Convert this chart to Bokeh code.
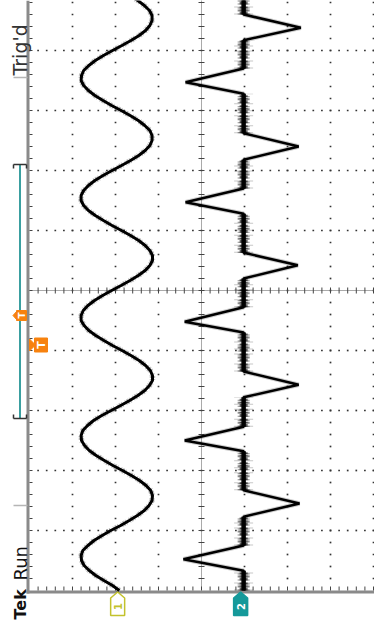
import numpy as np
from bokeh.plotting import figure
from bokeh.models import Range1d
from bokeh.embed import file_html
from bokeh.resources import INLINE
from bokeh.core.properties import value

# ---------------- data (screen divisions) ----------------
# time axis: horizontal divisions of the scope (0 = centre), one sample every 1/12 div
ch1_t = np.round(np.arange(-60, 61) / 12.0, 4)
# channel 1 (sine), divisions above its ground marker
ch1_v = [-0.04, 0.12, 0.32, 0.51, 0.66, 0.78, 0.84, 0.85, 0.81, 0.69, 0.55, 0.36,
         0.16, -0.07, -0.27, -0.46, -0.62, -0.73, -0.80, -0.81, -0.77, -0.66, -0.51, -0.32,
         -0.11, 0.11, 0.31, 0.50, 0.66, 0.77, 0.84, 0.85, 0.81, 0.70, 0.56, 0.37,
         0.15, -0.07, -0.28, -0.47, -0.63, -0.74, -0.81, -0.81, -0.76, -0.65, -0.50, -0.31,
         -0.10, 0.12, 0.32, 0.51, 0.67, 0.78, 0.85, 0.85, 0.80, 0.69, 0.54, 0.35,
         0.14, -0.08, -0.29, -0.48, -0.64, -0.75, -0.81, -0.81, -0.75, -0.64, -0.49, -0.30,
         -0.09, 0.13, 0.33, 0.52, 0.68, 0.79, 0.85, 0.85, 0.79, 0.68, 0.53, 0.34,
         0.13, -0.09, -0.30, -0.49, -0.64, -0.75, -0.80, -0.80, -0.75, -0.63, -0.48, -0.29,
         -0.08, 0.14, 0.34, 0.53, 0.68, 0.79, 0.85, 0.84, 0.79, 0.67, 0.52, 0.33,
         0.12, -0.10, -0.31, -0.50, -0.65, -0.75, -0.80, -0.80, -0.74, -0.62, -0.47, -0.28,
         -0.07]
# channel 2 (spiky wave), vertices: time (div) and divisions above its ground marker
ch2_t = [-5.00, -4.67, -4.48, -4.25, -3.77, -3.55, -3.33, -2.68, -2.50, -2.27, -1.78,
         -1.57, -1.35, -0.70, -0.52, -0.28, 0.20, 0.42, 0.63, 1.28, 1.47, 1.70, 2.18,
         2.40, 2.62, 3.28, 3.47, 3.70, 4.17, 4.38, 4.60, 5.00]
ch2_v = [-0.07, -0.07, 1.33, -0.07, -0.07, -1.37, -0.07, -0.07, 1.30, -0.07, -0.07,
         -1.35, -0.07, -0.07, 1.30, -0.07, -0.07, -1.33, -0.07, -0.07, 1.28, -0.07, -0.07,
         -1.35, -0.07, -0.07, 1.28, -0.07, -0.07, -1.40, -0.07, -0.07]
# ground-marker positions of the channels (div from screen centre)
ch1_pos = -1.95
ch2_pos = 0.91
volt_divs = [-4, -3, -2, -1, 0, 1, 2, 3, 4]
time_divs = [-5, -4, -3, -2, -1, 0, 1, 2, 3, 4, 5]
status_top = "Trig'd"
status_bottom = ["Tek", "Run"]

# ---------------- layout helpers (pixels -> divisions) ----------------
W, H = 374, 630
CX, CY, DX, DY = 201.0, 290.0, 43.0, 60.0
def X(px):
    return (np.asarray(px, dtype=float) - CX) / DX
def Y(py):
    return (CY - np.asarray(py, dtype=float)) / DY

C1 = "#c3c22c"
C2 = "#15999a"
ORANGE = "#f7820f"
FONT = value("DejaVu Sans")

p = figure(width=W, height=H, x_range=Range1d(float(X(0)), float(X(W))),
           y_range=Range1d(float(Y(H)), float(Y(0))),
           x_axis_type=None, y_axis_type=None, output_backend="svg",
           toolbar_location=None, min_border=0)
p.grid.visible = False
p.outline_line_color = None
p.background_fill_color = "white"
p.border_fill_color = "white"

# ---------------- graticule ----------------
tmin = [round(-5 + 0.2 * i, 3) for i in range(51)]
vmin = [round(-4 + 0.2 * i, 3) for i in range(41)]
dx, dy = [], []
for g in volt_divs:
    if g in (-4, 0):
        continue
    for tt in tmin:
        if tt > -5:
            dx.append(g); dy.append(tt)
for g in time_divs:
    if g in (-5, 0, 5):
        continue
    for vv in vmin:
        if vv > -4:
            dx.append(vv); dy.append(g)
p.scatter(dx, dy, marker="square", size=1.7, fill_color="#333333", line_color=None)

# centre cross
p.segment(x0=[0], y0=[float(Y(0))], x1=[0], y1=[-5], line_color="#555555",
          line_width=1, line_dash="1 1")
p.segment(x0=[-4], y0=[0], x1=[float(X(W))], y1=[0], line_color="#555555",
          line_width=1, line_dash="1 1")
tk = [tt for tt in tmin if tt > -5]
p.segment(x0=[float(X(CX - 3))] * len(tk), y0=tk, x1=[float(X(CX + 3))] * len(tk), y1=tk,
          line_color="#444444", line_width=1)
vk = [vv for vv in vmin if vv > -4]
p.segment(x0=vk, y0=[float(Y(CY - 3))] * len(vk), x1=vk, y1=[float(Y(CY + 3))] * len(vk),
          line_color="#444444", line_width=1)

# borders with ticks
p.segment(x0=[float(X(27.5))], y0=[float(Y(0))], x1=[float(X(27.5))], y1=[float(Y(593))],
          line_color="#8a8a8a", line_width=3)
p.segment(x0=[float(X(26))], y0=[float(Y(591.5))], x1=[float(X(W))], y1=[float(Y(591.5))],
          line_color="#8a8a8a", line_width=3)
p.segment(x0=[float(X(29))] * len(tk), y0=tk, x1=[float(X(32))] * len(tk), y1=tk,
          line_color="#444444", line_width=1)
p.segment(x0=vk, y0=[float(Y(590))] * len(vk), x1=vk, y1=[float(Y(586))] * len(vk),
          line_color="#444444", line_width=1)

# ---------------- traces ----------------
x1 = [ch1_pos - v for v in ch1_v]
p.line(x1, list(ch1_t), line_color="black", line_width=5.5, line_alpha=0.25,
       line_dash="2 1 1 3 1 1")
p.line(x1, list(ch1_t), line_color="black", line_width=3)

x2 = [ch2_pos - v for v in ch2_v]
fx, fy = [], []
for i in range(len(ch2_t) - 1):
    if abs(ch2_v[i]) < 0.3 and abs(ch2_v[i + 1]) < 0.3:
        fx.append([x2[i], x2[i + 1]]); fy.append([ch2_t[i], ch2_t[i + 1]])
p.multi_line(fx, fy, line_color="black", line_width=19, line_dash="1 6 1 9 1 4",
             line_alpha=0.22)
p.multi_line(fx, fy, line_color="black", line_width=12, line_dash="1 2 2 1 1 3",
             line_alpha=0.45)
p.multi_line(fx, fy, line_color="black", line_width=8, line_dash="3 1 1 1 2 2",
             line_alpha=0.6)
p.multi_line(fx, fy, line_color="black", line_width=4.5, line_alpha=0.95)
p.line(x2, ch2_t, line_color="black", line_width=4.5, line_alpha=0.2)
p.line(x2, ch2_t, line_color="black", line_width=2.5)

# ---------------- left status column ----------------
p.segment(x0=[float(X(13))] * 2, y0=[float(Y(77)), float(Y(505))], x1=[float(X(27))] * 2,
          y1=[float(Y(77)), float(Y(505))], line_color="#b5b5b5", line_width=1.5)
# record bracket
p.segment(x0=[float(X(19.5))], y0=[float(Y(164))], x1=[float(X(19.5))], y1=[float(Y(418))],
          line_color="#3a9fa0", line_width=2)
bx0 = [float(X(13)), float(X(13)), float(X(26)), float(X(13)), float(X(13)), float(X(26))]
by0 = [float(Y(164)), float(Y(164)), float(Y(164)), float(Y(418)), float(Y(418)), float(Y(418))]
bx1 = [float(X(26)), float(X(13)), float(X(26)), float(X(26)), float(X(13)), float(X(26))]
by1 = [float(Y(164)), float(Y(168)), float(Y(168)), float(Y(418)), float(Y(414)), float(Y(414))]
p.segment(x0=bx0, y0=by0, x1=bx1, y1=by1, line_color="#333333", line_width=1.5)

# orange trigger markers
p.patch(list(X([12.5, 16.5, 16.5])), list(Y([315, 310.5, 319.5])), fill_color=ORANGE,
        line_color=ORANGE)
p.quad(left=[float(X(16))], right=[float(X(26))], top=[float(Y(310))], bottom=[float(Y(320))],
       fill_color=ORANGE, line_color=ORANGE)
p.text(x=[float(X(21))], y=[float(Y(315))], text=["T"], angle=np.pi / 2, text_align="center",
       text_baseline="middle", text_color="white", text_font=FONT, text_font_size="9px",
       text_font_style="bold")
p.patch(list(X([29, 35, 29])), list(Y([338.5, 344.5, 350.5])), fill_color=ORANGE,
        line_color=ORANGE)
p.quad(left=[float(X(34))], right=[float(X(47))], top=[float(Y(337.5))],
       bottom=[float(Y(351.5))], fill_color=ORANGE, line_color=ORANGE)
p.text(x=[float(X(40.5))], y=[float(Y(344.5))], text=["T"], angle=np.pi / 2,
       text_align="center", text_baseline="middle", text_color="white", text_font=FONT,
       text_font_size="11px", text_font_style="bold")

# status texts
p.text(x=[float(X(19.5))], y=[float(Y(75))], text=[status_top], angle=np.pi / 2,
       text_align="left", text_baseline="middle", text_color="#333333", text_font=FONT,
       text_font_size="19px")
p.text(x=[float(X(19.5))], y=[float(Y(580))], text=[status_bottom[1]], angle=np.pi / 2,
       text_align="left", text_baseline="middle", text_color="#111111", text_font=FONT,
       text_font_size="18px")
p.text(x=[float(X(19.5))], y=[float(Y(619))], text=[status_bottom[0]], angle=np.pi / 2,
       text_align="left", text_baseline="middle", text_color="#111111", text_font=FONT,
       text_font_size="16px", text_font_style="bold")

# ---------------- channel ground markers ----------------
mx = np.array([0, -7, -7, 7, 7]) / DX
my = list(Y([591.5, 597.5, 615, 615, 597.5]))
p.patch(list(ch1_pos + mx), my, fill_color="white", line_color=C1, line_width=1.5)
p.text(x=[ch1_pos], y=[float(Y(606))], text=["1"], angle=np.pi / 2, text_align="center",
       text_baseline="middle", text_color=C1, text_font=FONT, text_font_size="10px",
       text_font_style="bold")
p.patch(list(ch2_pos + mx), my, fill_color=C2, line_color=C2, line_width=1.5)
p.text(x=[ch2_pos], y=[float(Y(606))], text=["2"], angle=np.pi / 2, text_align="center",
       text_baseline="middle", text_color="white", text_font=FONT, text_font_size="10px",
       text_font_style="bold")

open("out.html", "w").write(file_html(p, INLINE))
